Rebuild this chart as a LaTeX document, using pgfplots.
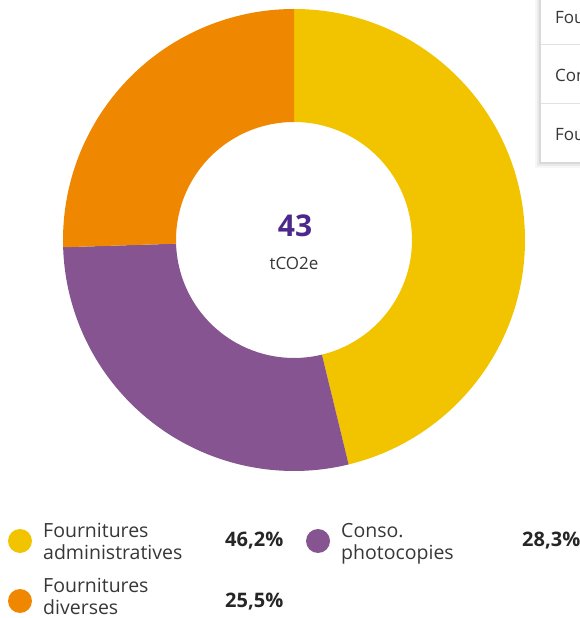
\documentclass[border=0pt]{standalone}
\usepackage{fontspec}
\setmainfont{Open Sans}
\usepackage{pgfplots}
\usepackage{pgfplotstable}
\pgfplotsset{compat=1.18}
\definecolor{cyellow}{RGB}{242,196,0}
\definecolor{corange}{RGB}{240,135,0}
\definecolor{cpurple}{RGB}{133,84,145}
\definecolor{cnum}{RGB}{76,40,140}
\definecolor{ctext}{RGB}{55,55,55}
\definecolor{cline}{RGB}{225,225,225}

\pgfplotstableread{
label value
admin 46.2
photo 28.3
divers 25.5
}\donutdata

\begin{document}
\begin{tikzpicture}
\pgfplotstablegetelem{0}{value}\of\donutdata \let\vA\pgfplotsretval
\pgfplotstablegetelem{1}{value}\of\donutdata \let\vB\pgfplotsretval
\pgfplotstablegetelem{2}{value}\of\donutdata \let\vC\pgfplotsretval
\pgfmathsetmacro\aA{90}
\pgfmathsetmacro\aB{90-3.6*\vA}
\pgfmathsetmacro\aC{\aB-3.6*\vB}
\pgfmathsetmacro\aD{\aC-3.6*\vC}
\path[use as bounding box] (0,0) rectangle (580pt,618pt);
\begin{axis}[at={(0,0)}, anchor=south west, scale only axis,
  width=580pt, height=618pt, xmin=0, xmax=580, ymin=0, ymax=618,
  hide axis, clip=false]
% donut
\fill[cyellow] ([shift={(\aA:231pt)}]axis cs:294,378) arc[start angle=\aA, end angle=\aB, radius=231pt]
  -- ([shift={(\aB:118pt)}]axis cs:294,378) arc[start angle=\aB, end angle=\aA, radius=118pt] -- cycle;
\fill[cpurple] ([shift={(\aB:231pt)}]axis cs:294,378) arc[start angle=\aB, end angle=\aC, radius=231pt]
  -- ([shift={(\aC:118pt)}]axis cs:294,378) arc[start angle=\aC, end angle=\aB, radius=118pt] -- cycle;
\fill[corange] ([shift={(\aC:231pt)}]axis cs:294,378) arc[start angle=\aC, end angle=\aD, radius=231pt]
  -- ([shift={(\aD:118pt)}]axis cs:294,378) arc[start angle=\aD, end angle=\aC, radius=118pt] -- cycle;
% center
\node[anchor=base, text=cnum, font=\fontsize{30}{30}\selectfont\bfseries] at (axis cs:295,381) {43};
\node[anchor=base, text=ctext, font=\fontsize{17}{17}\selectfont] at (axis cs:294,348) {tCO2e};
% tooltip box
\fill[black, opacity=0.03] (axis cs:535,450) rectangle (axis cs:640,640);
\fill[black, opacity=0.05] (axis cs:537,452) rectangle (axis cs:640,640);
\fill[black, opacity=0.07] (axis cs:539,454) rectangle (axis cs:640,640);
\fill[white] (axis cs:541,456) rectangle (axis cs:640,640);
\draw[cline, line width=1pt] (axis cs:541,573) -- (axis cs:640,573);
\draw[cline, line width=1pt] (axis cs:541,514) -- (axis cs:640,514);
\node[anchor=base west, text=ctext, font=\fontsize{17}{17}\selectfont, inner sep=0pt] at (axis cs:555,594) {Fournitures administratives};
\node[anchor=base west, text=ctext, font=\fontsize{17}{17}\selectfont, inner sep=0pt] at (axis cs:555,536) {Conso. photocopies};
\node[anchor=base west, text=ctext, font=\fontsize{17}{17}\selectfont, inner sep=0pt] at (axis cs:555,477) {Fournitures diverses};
% legend
\fill[cyellow] (axis cs:20,77) circle[radius=12pt];
\fill[cpurple] (axis cs:318,77) circle[radius=12pt];
\fill[corange] (axis cs:20,17) circle[radius=12pt];
\begin{scope}[every node/.style={anchor=base west, inner sep=0pt, text=ctext, font=\fontsize{19.5}{19.5}\selectfont}]
\node at (axis cs:43,81) {Fournitures};
\node at (axis cs:43,59) {administratives};
\node at (axis cs:43,26) {Fournitures};
\node at (axis cs:43,4) {diverses};
\node at (axis cs:341,81) {Conso.};
\node at (axis cs:341,59) {photocopies};
\end{scope}
\begin{scope}[every node/.style={anchor=base west, inner sep=0pt, text=black!85, font=\fontsize{20}{20}\selectfont\bfseries}]
\node at (axis cs:225,71) {46,2\%};
\node at (axis cs:522,71) {28,3\%};
\node at (axis cs:225,11) {25,5\%};
\end{scope}
\end{axis}
\end{tikzpicture}
\end{document}
